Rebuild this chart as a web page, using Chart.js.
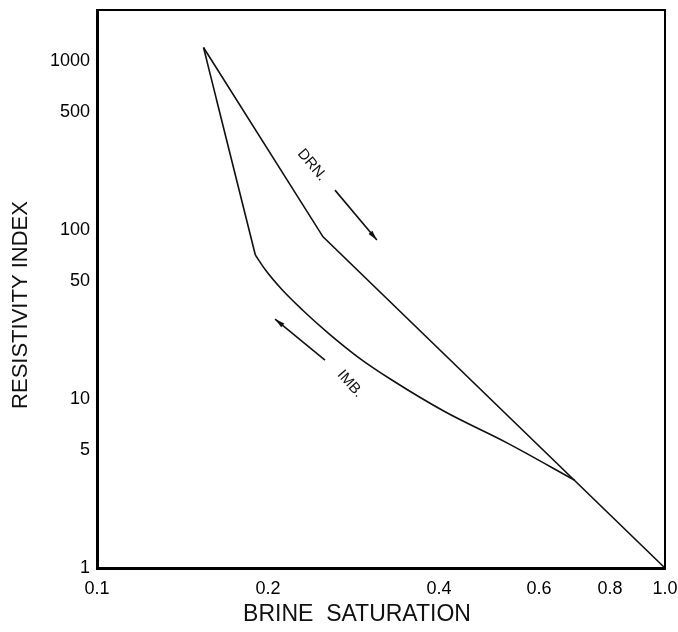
<!DOCTYPE html>
<html>
<head>
<meta charset="utf-8">
<script src="https://cdn.jsdelivr.net/npm/chart.js@4/dist/chart.umd.min.js"></script>
<style>
  body { margin: 0; background: #fff; }
  #wrap { width: 678px; height: 632px; position: relative; }
</style>
</head>
<body>
<div id="wrap"><canvas id="myChart"></canvas></div>
<script>
// drainage curve (brine saturation, resistivity index)
var drnSat = [0.154, 0.25, 1.0];
var drnRI = [1200, 91, 1.0];
// imbibition curve: straight drop to the kink, then the bend down to the drainage line
var imbSat = [0.154, 0.190, 0.198, 0.212, 0.230, 0.255, 0.288, 0.331, 0.410, 0.527, 0.694];
var imbRI = [1200, 71, 57.9, 44.1, 33.6, 24.6, 17.7, 12.9, 8.4, 5.5, 3.3];
// tick labels
var xTicks = [0.1, 0.2, 0.4, 0.6, 0.8, 1.0];
var yTicks = [1, 5, 10, 50, 100, 500, 1000];

var FONT = "'Liberation Sans', Arial, sans-serif";

function points(xs, ys, from, to){
  var out = [];
  for (var i = from; i < to; i++) {
    out.push({x: xs[i], y: ys[i]});
  }
  return out;
}

function curve(data, smooth){
  return {
    data: data,
    showLine: true,
    borderColor: '#111',
    borderWidth: 1.6,
    pointRadius: 0,
    cubicInterpolationMode: smooth ? 'monotone' : 'default',
    tension: 0
  };
}

// frame, axis titles and the DRN / IMB notes with arrows
var extras = {
  id: 'extras',
  afterDraw: function(chart){
    var ctx = chart.ctx;
    var a = chart.chartArea;
    var xs = chart.scales.x, ys = chart.scales.y;
    ctx.save();
    ctx.strokeStyle = '#000';
    ctx.lineWidth = 2;
    ctx.beginPath();
    ctx.moveTo(a.left, a.top);
    ctx.lineTo(a.right, a.top);
    ctx.lineTo(a.right, a.bottom);
    ctx.stroke();

    ctx.fillStyle = '#111';
    ctx.strokeStyle = '#111';
    ctx.textAlign = 'center';
    ctx.textBaseline = 'middle';
    ctx.font = '23px ' + FONT;
    ctx.fillText('BRINE  SATURATION', 357, 615);
    ctx.save();
    ctx.translate(21, 305);
    ctx.rotate(-Math.PI / 2);
    ctx.font = '22px ' + FONT;
    ctx.fillText('RESISTIVITY INDEX', 0, 0);
    ctx.restore();

    function note(txt, sx, ri, deg){
      ctx.save();
      ctx.translate(xs.getPixelForValue(sx), ys.getPixelForValue(ri));
      ctx.rotate(deg * Math.PI / 180);
      ctx.font = '15px ' + FONT;
      ctx.fillText(txt, 0, 0);
      ctx.restore();
    }
    function arrow(s1, r1, s2, r2){
      var x1 = xs.getPixelForValue(s1), y1 = ys.getPixelForValue(r1);
      var x2 = xs.getPixelForValue(s2), y2 = ys.getPixelForValue(r2);
      var ang = Math.atan2(y2 - y1, x2 - x1);
      ctx.lineWidth = 1.6;
      ctx.beginPath();
      ctx.moveTo(x1, y1);
      ctx.lineTo(x2, y2);
      ctx.stroke();
      ctx.beginPath();
      ctx.moveTo(x2, y2);
      ctx.lineTo(x2 - 10 * Math.cos(ang) + 2.5 * Math.sin(ang), y2 - 10 * Math.sin(ang) - 2.5 * Math.cos(ang));
      ctx.lineTo(x2 - 10 * Math.cos(ang) - 2.5 * Math.sin(ang), y2 - 10 * Math.sin(ang) + 2.5 * Math.cos(ang));
      ctx.closePath();
      ctx.fill();
    }
    note('DRN.', 0.239, 242, 50);
    arrow(0.2624, 172, 0.311, 87.2);
    note('IMB.', 0.279, 12.3, 48);
    arrow(0.252, 17.0, 0.2058, 29.7);
    ctx.restore();
  }
};

function printgraph(){
  var ctx = document.getElementById('myChart').getContext('2d');
  var myChart = new Chart(ctx, {
    type: 'scatter',
    data: {
      datasets: [
        curve(points(drnSat, drnRI, 0, drnSat.length), false),
        curve(points(imbSat, imbRI, 0, 2), false),
        curve(points(imbSat, imbRI, 1, imbSat.length), true)
      ]
    },
    options: {
      responsive: true,
      maintainAspectRatio: false,
      animation: false,
      layout: { padding: { top: 10, right: 13, left: 0, bottom: 0 } },
      plugins: { legend: { display: false }, tooltip: { enabled: false } },
      scales: {
        x: {
          type: 'logarithmic',
          min: 0.1,
          max: 1.0,
          grid: { display: false, drawTicks: false },
          border: { display: true, color: '#000', width: 3 },
          afterBuildTicks: function(scale){
            scale.ticks = xTicks.map(function(v){ return {value: v}; });
          },
          afterFit: function(scale){
            scale.height = 64;
            scale.paddingLeft = 0;
            scale.paddingRight = 0;
          },
          ticks: {
            autoSkip: false,
            maxRotation: 0,
            padding: 10,
            color: '#000',
            font: { family: FONT, size: 18 },
            callback: function(v){ return v.toFixed(1); }
          }
        },
        y: {
          type: 'logarithmic',
          min: 1,
          max: 2000,
          grid: { display: false, drawTicks: false },
          border: { display: true, color: '#000', width: 3 },
          afterBuildTicks: function(scale){
            scale.ticks = yTicks.map(function(v){ return {value: v}; });
          },
          afterFit: function(scale){
            scale.width = 97;
            scale.paddingTop = 0;
            scale.paddingBottom = 0;
          },
          ticks: {
            autoSkip: false,
            padding: 7,
            color: '#000',
            font: { family: FONT, size: 18 },
            callback: function(v){ return String(v); }
          }
        }
      }
    },
    plugins: [extras]
  });
}
printgraph();
</script>
</body>
</html>
